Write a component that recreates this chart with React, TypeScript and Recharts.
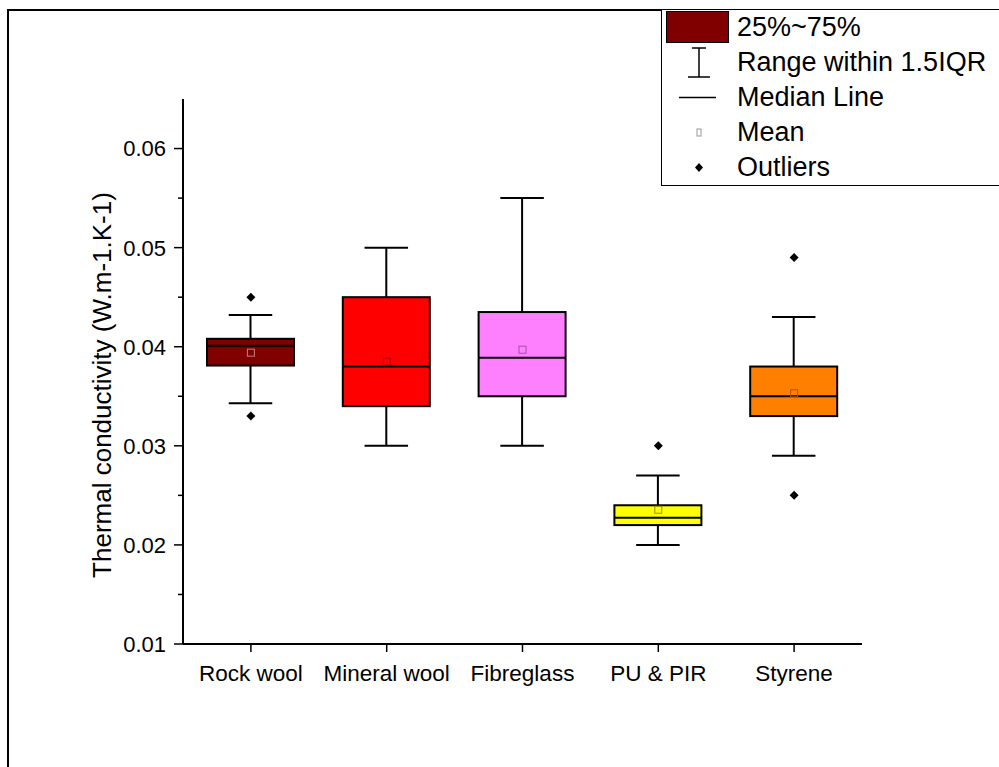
import { Bar, ComposedChart, Scatter, XAxis, YAxis } from 'recharts';

const FONT = "'Liberation Sans', Arial, sans-serif";

// box plot statistics
const categories = ['Rock wool', 'Mineral wool', 'Fibreglass', 'PU & PIR', 'Styrene'];
const whiskerLow = [0.0343, 0.03, 0.03, 0.02, 0.029];
const q1 = [0.0381, 0.034, 0.035, 0.022, 0.033];
const median = [0.0401, 0.038, 0.0389, 0.02275, 0.035];
const q3 = [0.0408, 0.045, 0.0435, 0.024, 0.038];
const whiskerHigh = [0.0432, 0.05, 0.055, 0.027, 0.043];
const means = [0.0394, 0.0385, 0.0397, 0.02355, 0.0353];
const outliersHigh = [0.045, null, null, 0.03, 0.049];
const outliersLow = [0.033, null, null, null, 0.025];
const boxColors = ['#800000', '#FF0000', '#FF80FF', '#FFFF00', '#FF8000'];
const meanColors = ['#c08080', '#a00000', '#a050a0', '#909000', '#b05000'];

const yTicks = [0.01, 0.015, 0.02, 0.025, 0.03, 0.035, 0.04, 0.045, 0.05, 0.055, 0.06];

const legendLabels = ['25%~75%', 'Range within 1.5IQR', 'Median Line', 'Mean', 'Outliers'];

const rows = categories.map((name, i) => ({
  name,
  range: [whiskerLow[i], whiskerHigh[i]],
  q1: q1[i],
  median: median[i],
  q3: q3[i],
  mean: means[i],
  outHi: outliersHigh[i],
  outLo: outliersLow[i],
  color: boxColors[i],
  meanColor: meanColors[i],
}));

function BoxShape(props: any) {
  const { x, y, width, height, payload } = props;
  const [lo, hi] = payload.range;
  const top = Math.min(y, y + height);
  const h = Math.abs(height);
  const py = (v: number) => top + ((hi - v) / (hi - lo)) * h;
  const cx = x + width / 2;
  const cap = width / 4;
  const yq3 = py(payload.q3);
  const yq1 = py(payload.q1);
  const ym = py(payload.median);
  return (
    <g stroke="#000" strokeWidth={2}>
      <line x1={cx} x2={cx} y1={top} y2={top + h} />
      <line x1={cx - cap} x2={cx + cap} y1={top} y2={top} />
      <line x1={cx - cap} x2={cx + cap} y1={top + h} y2={top + h} />
      <rect x={x} y={yq3} width={width} height={yq1 - yq3} fill={payload.color} />
      <line x1={x} x2={x + width} y1={ym} y2={ym} />
    </g>
  );
}

function MeanShape(props: any) {
  const { cx, cy, payload } = props;
  if (!Number.isFinite(cx) || !Number.isFinite(cy)) return <g />;
  return (
    <rect x={cx - 3.5} y={cy - 3.5} width={7} height={7} fill="none" stroke={payload.meanColor} strokeWidth={1} />
  );
}

function Diamond(props: any) {
  const { cx, cy, payload, field } = props;
  if (!payload || payload[field] == null || !Number.isFinite(cx) || !Number.isFinite(cy)) return <g />;
  const r = 4.5;
  return <path d={`M${cx},${cy - r}L${cx + r},${cy}L${cx},${cy + r}L${cx - r},${cy}Z`} fill="#000" />;
}

function YTick(props: any) {
  const { x, y, payload } = props;
  const v = payload.value;
  const major = Math.abs(v * 100 - Math.round(v * 100)) < 1e-6;
  return (
    <g>
      <line x1={x} x2={x - (major ? 9 : 5)} y1={y} y2={y} stroke="#000" strokeWidth={1.5} />
      {major && (
        <text x={x - 17} y={y} dy="0.36em" textAnchor="end" fontSize={22} fontFamily={FONT} fill="#000">
          {v.toFixed(2)}
        </text>
      )}
    </g>
  );
}

function LegendSymbol({ index }: { index: number }) {
  return (
    <svg width={75} height={35} style={{ display: 'block' }}>
      {index === 0 && <rect x={4.5} y={1.5} width={62} height={31} fill="#800000" stroke="#000" strokeWidth={1} />}
      {index === 1 && (
        <g stroke="#000" strokeWidth={1.5}>
          <line x1={37} x2={37} y1={3} y2={32} />
          <line x1={30} x2={44} y1={3} y2={3} />
          <line x1={26} x2={48} y1={32} y2={32} />
        </g>
      )}
      {index === 2 && <line x1={17} x2={54} y1={17.5} y2={17.5} stroke="#000" strokeWidth={1.5} />}
      {index === 3 && <rect x={35} y={14} width={4} height={7} fill="none" stroke="#999" strokeWidth={1} />}
      {index === 4 && <path d="M37,13L41,17.5L37,22L33,17.5Z" fill="#000" />}
    </svg>
  );
}

export default function App() {
  return (
    <div style={{ position: 'absolute', left: 0, top: 0, width: 999, height: 767, background: '#fff', overflow: 'hidden', fontFamily: FONT }}>
      <div style={{ position: 'absolute', left: 7, top: 9, width: 990, height: 756, borderLeft: '2px solid #000', borderTop: '2px solid #000' }} />
      <div style={{ position: 'absolute', left: 0, top: 0 }}>
        <ComposedChart width={999} height={767} data={rows} margin={{ top: 99, right: 137, bottom: 83, left: 103 }}>
          <XAxis
            dataKey="name"
            type="category"
            allowDuplicatedCategory={false}
            height={40}
            axisLine={{ stroke: '#000', strokeWidth: 2 }}
            tickLine={{ stroke: '#000', strokeWidth: 1.5 }}
            tickSize={8}
            tickMargin={13}
            tick={{ fontSize: 22.5, fill: '#000', fontFamily: FONT }}
            interval={0}
          />
          <YAxis
            type="number"
            width={80}
            domain={[0.01, 0.065]}
            ticks={yTicks}
            interval={0}
            allowDataOverflow
            axisLine={{ stroke: '#000', strokeWidth: 2 }}
            tickLine={false}
            tickSize={0}
            tickMargin={0}
            tick={<YTick />}
          />
          <Bar dataKey="range" barSize={87} shape={<BoxShape />} isAnimationActive={false} />
          <Scatter dataKey="mean" shape={<MeanShape />} isAnimationActive={false} />
          <Scatter dataKey="outHi" shape={(p: any) => <Diamond {...p} field="outHi" />} isAnimationActive={false} />
          <Scatter dataKey="outLo" shape={(p: any) => <Diamond {...p} field="outLo" />} isAnimationActive={false} />
        </ComposedChart>
      </div>
      <svg style={{ position: 'absolute', left: 0, top: 0 }} width={200} height={767}>
        <text
          x={0}
          y={0}
          transform="translate(111,385) rotate(-90)"
          textAnchor="middle"
          fontSize={26}
          fontFamily={FONT}
          fill="#000"
        >
          Thermal conductivity (W.m-1.K-1)
        </text>
      </svg>
      <div
        style={{
          position: 'absolute',
          left: 661,
          top: 9,
          width: 338,
          height: 175,
          borderLeft: '1px solid #000',
          borderBottom: '1px solid #000',
          borderTop: '1px solid #000',
          background: '#fff',
        }}
      >
        {legendLabels.map((label, i) => (
          <div key={label} style={{ display: 'flex', alignItems: 'center', height: 35 }}>
            <LegendSymbol index={i} />
            <span style={{ fontSize: 27, lineHeight: '35px', color: '#000' }}>{label}</span>
          </div>
        ))}
      </div>
    </div>
  );
}
